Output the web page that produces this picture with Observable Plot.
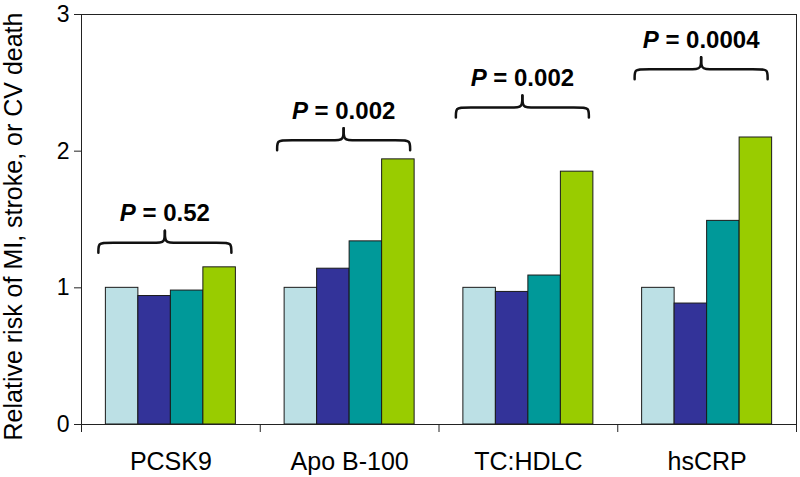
<!DOCTYPE html>
<html><head><meta charset="utf-8">
<script src="https://cdn.jsdelivr.net/npm/d3@7"></script>
<script src="https://cdn.jsdelivr.net/npm/@observablehq/plot@0.6"></script>
<style>body{margin:0;background:#fff}</style>
</head><body><div id="chart"></div>
<script>
// ---- data ----
const categories = ["PCSK9", "Apo B-100", "TC:HDLC", "hsCRP"];
const seriesNames = ["Quartile 1", "Quartile 2", "Quartile 3", "Quartile 4"];
const quartile1 = [1.00, 1.00, 1.00, 1.00];
const quartile2 = [0.94, 1.14, 0.97, 0.885];
const quartile3 = [0.98, 1.34, 1.09, 1.49];
const quartile4 = [1.15, 1.94, 1.85, 2.10];
const pValues = ["0.52", "0.002", "0.002", "0.0004"];
const braceLevels = [1.33, 2.08, 2.32, 2.60];
const yTicks = [0, 1, 2, 3];
const yTitle = "Relative risk of MI, stroke, or CV death";
const colors = ["#bce0e5", "#333399", "#009999", "#99cc00"];

// ---- layout ----
const W = 800, H = 477, mL = 81, mR = 4, mT = 14, mB = 53;
const yMax = 3;
const xPx = categories.length / (W - mL - mR);
const yPx = yMax / (H - mT - mB);
const groupWidth = 130 * xPx, barW = groupWidth / seriesNames.length;
const braceShift = -6, braceHalf = 66.5, braceDrop = 10, bracePeak = 12, braceCorner = 8;

const seriesValues = [quartile1, quartile2, quartile3, quartile4];
const bars = [];
categories.forEach((c, i) => seriesValues.forEach((vals, j) =>
  bars.push({cat: c, i, j, series: seriesNames[j], value: vals[i]})));

const bracePts = [];
categories.forEach((c, i) => {
  const cx = i + 0.5 + braceShift * xPx, w = braceHalf * xPx, y = braceLevels[i];
  for (const s of [-1, 1]) {
    const L = cx + s * w, k = braceCorner * xPx;
    const pts = [[L, y - braceDrop * yPx], [L, y], [L - s * k, y], [cx + s * k, y], [cx, y], [cx, y + bracePeak * yPx]];
    pts.forEach(([x, yy]) => bracePts.push({id: i + "_" + s, x, y: yy}));
  }
});
const pLabels = categories.map((c, i) => ({x: i + 0.5 + braceShift * xPx, y: braceLevels[i], text: "P = " + pValues[i]}));

const chart = Plot.plot({
  width: W, height: H,
  marginLeft: mL, marginRight: mR, marginTop: mT, marginBottom: mB,
  style: {fontFamily: "'Liberation Sans', Arial, sans-serif", color: "#000", background: "#fff"},
  x: {domain: [0, categories.length], axis: null},
  y: {domain: [0, yMax], axis: null},
  marks: [
    Plot.rectY(bars, {
      x1: d => d.i + 0.5 - groupWidth / 2 + d.j * barW,
      x2: d => d.i + 0.5 - groupWidth / 2 + (d.j + 1) * barW,
      y1: 0, y2: "value",
      fill: d => colors[d.j], stroke: "#1a1a1a", strokeWidth: 1
    }),
    Plot.frame({stroke: "#222"}),
    Plot.axisY({ticks: yTicks, tickSize: 7, tickPadding: 5, fontSize: 23, label: null, tickFormat: d => String(d), stroke: "#222"}),
    Plot.axisX({ticks: d3.range(categories.length + 1), tickSize: 8, tickFormat: () => "", label: null, stroke: "#222"}),
    Plot.text(categories, {x: (d, i) => i + 0.5, y: 0, text: d => d, dy: 37, fontSize: 25, fill: "#000"}),
    Plot.text([yTitle], {frameAnchor: "left", textAnchor: "middle", text: d => d, rotate: -90, dx: -68, dy: 7, fontSize: 25, fill: "#000"}),
    Plot.line(bracePts, {x: "x", y: "y", z: "id", curve: "basis", stroke: "#111", strokeWidth: 2.5}),
    Plot.text(pLabels, {x: "x", y: "y", text: "text", dy: -29, fontSize: 24, fontWeight: "bold", fill: "#000"})
  ]
});
document.getElementById("chart").appendChild(chart);

// italicize the "P" in each P-value label
chart.querySelectorAll("text").forEach(t => {
  const s = t.textContent;
  if (s.startsWith("P = ")) {
    t.textContent = "";
    const ns = "http://www.w3.org/2000/svg";
    const a = document.createElementNS(ns, "tspan");
    a.setAttribute("font-style", "italic");
    a.textContent = "P";
    const b = document.createElementNS(ns, "tspan");
    b.textContent = s.slice(1);
    t.appendChild(a); t.appendChild(b);
  }
});
</script></body></html>
